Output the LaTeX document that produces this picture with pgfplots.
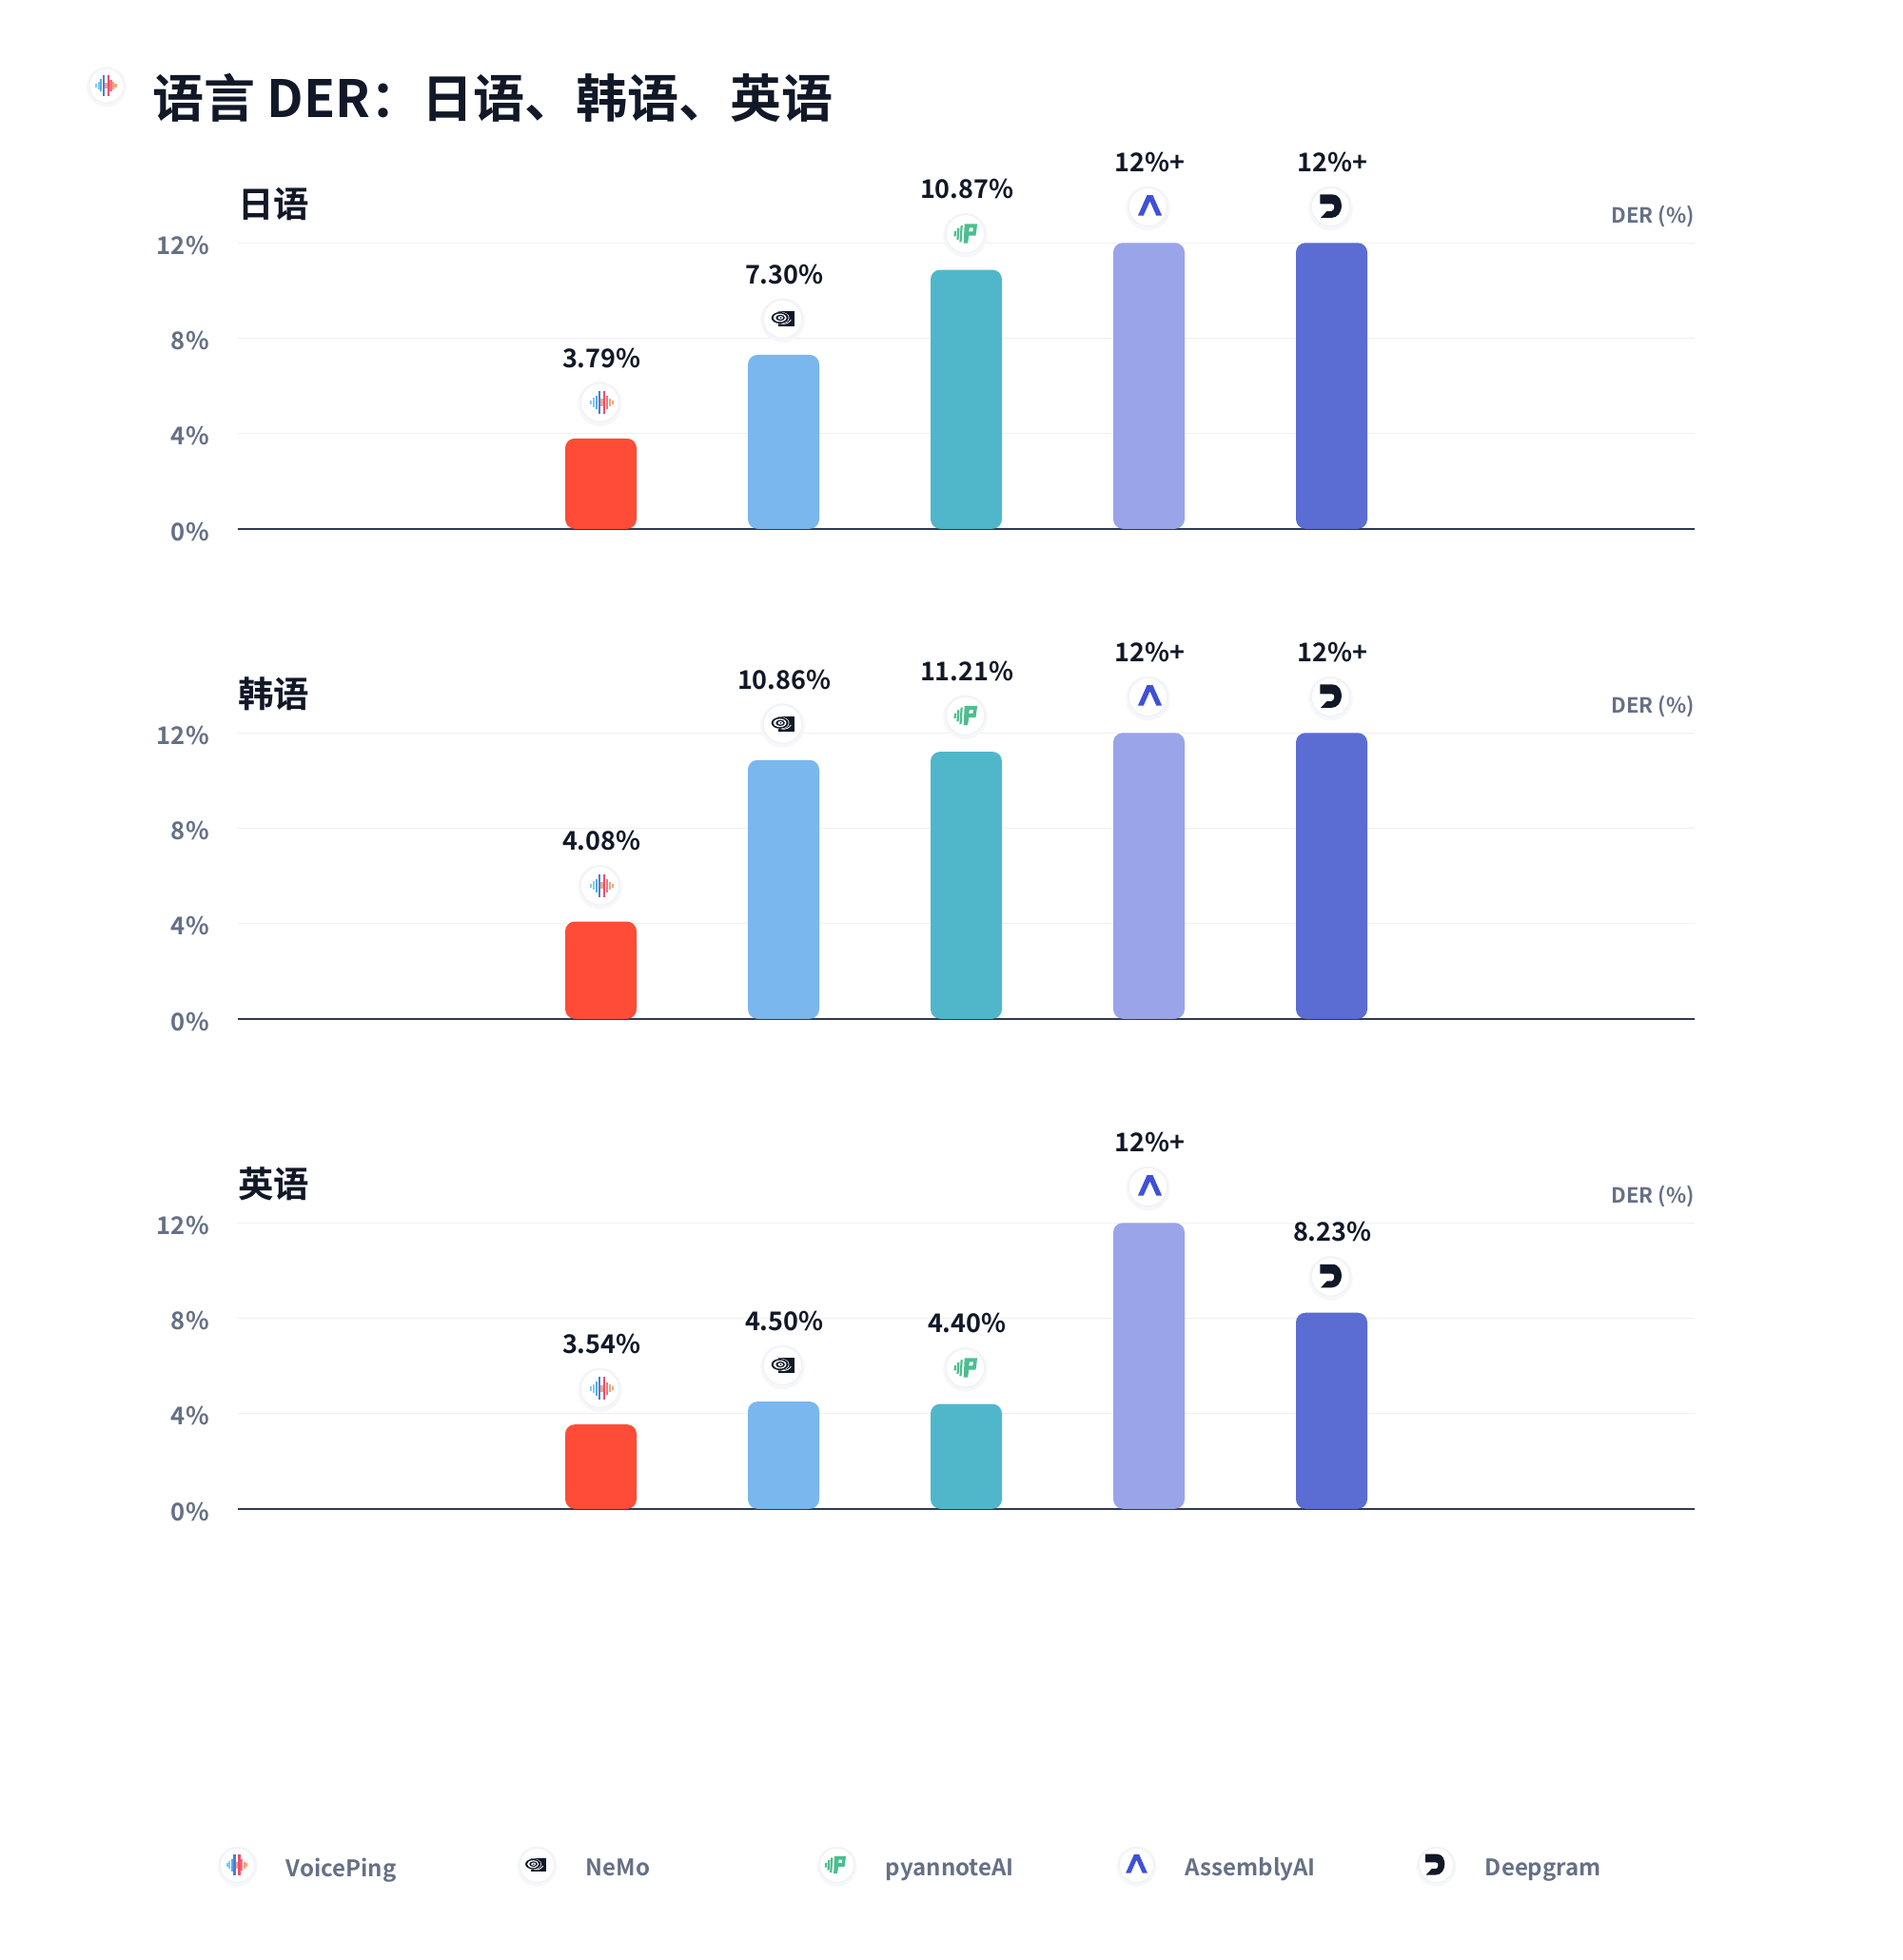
\documentclass[border=0pt]{standalone}
\usepackage{fontspec}
\usepackage{pgfplots}
\pgfplotsset{compat=1.18}
\setmainfont{Noto Sans CJK SC}[BoldFont={Noto Sans CJK SC Bold}]
\definecolor{ink}{HTML}{111827}
\definecolor{slate}{HTML}{667085}
\definecolor{axisc}{HTML}{2F3B4F}
\definecolor{cVP}{HTML}{FF4C36}
\definecolor{cNM}{HTML}{79B7EE}
\definecolor{cPY}{HTML}{50B7CB}
\definecolor{cAS}{HTML}{99A4E9}
\definecolor{cDG}{HTML}{5B6CD3}
\definecolor{ringA}{HTML}{F6F7FA}
\definecolor{ringB}{HTML}{EFF1F6}
\definecolor{vpA}{HTML}{7CCBF5}
\definecolor{vpB}{HTML}{5AA9EC}
\definecolor{vpC}{HTML}{4A7FD6}
\definecolor{vpD}{HTML}{F3A58A}
\definecolor{vpE}{HTML}{EE4F6C}
\definecolor{vpF}{HTML}{F4747C}
\definecolor{vpG}{HTML}{F6A474}
\definecolor{pg}{HTML}{4CBE8F}
\definecolor{asb}{HTML}{3E50D9}
\newcommand\iconbase{%
  \fill[draw=none,fill=ringA] (0,-0.7pt) circle (11.7pt);
  \path[draw=ringB,line width=0.5pt,fill=white] (0,0) circle (10.1pt);}
\pgfdeclareplotmark{vp}{\begin{scope}\iconbase
  \begin{scope}[xshift=-0.3pt,line width=1.05pt]
  \draw[vpA] (-5.6pt,-1.1pt)--(-5.6pt,1.1pt);
  \draw[vpA] (-4.2pt,-2.3pt)--(-4.2pt,2.3pt);
  \draw[vpB] (-2.8pt,-3.6pt)--(-2.8pt,3.6pt);
  \draw[vpC] (-1.4pt,-6pt)--(-1.4pt,6pt);
  \draw[vpD] (0pt,-1.8pt)--(0pt,1.8pt);
  \draw[vpE] (1.4pt,-6pt)--(1.4pt,6pt);
  \draw[vpF] (2.8pt,-3.4pt)--(2.8pt,3.4pt);
  \draw[vpG] (4.2pt,-2pt)--(4.2pt,2pt);
  \draw[vpG] (5.6pt,-1pt)--(5.6pt,1pt);
  \end{scope}\end{scope}}
\pgfdeclareplotmark{nm}{\begin{scope}\iconbase
  \fill[draw=none,ink] (-3.4pt,4.2pt) rectangle (5.1pt,-3.8pt);
  \fill[draw=none,white] (-2.4pt,0.6pt) ellipse (4.9pt and 3.2pt);
  \fill[draw=none,ink] (-2.4pt,0.6pt) ellipse (4.5pt and 3pt);
  \fill[draw=none,white] (-2.4pt,0.6pt) ellipse (3.4pt and 2.2pt);
  \fill[draw=none,ink] (-2.2pt,0.6pt) ellipse (2.4pt and 1.6pt);
  \fill[draw=none,white] (-2.1pt,0.6pt) ellipse (1.4pt and 0.9pt);
  \fill[draw=none,ink] (-2pt,0.6pt) ellipse (0.6pt and 0.4pt);
  \draw[white,line width=0.4pt] (-1.5pt,-2.6pt) .. controls (1pt,-2.8pt) and (2.8pt,-1.8pt) .. (3.4pt,-0.4pt);
  \end{scope}}
\pgfdeclareplotmark{py}{\begin{scope}\iconbase
  \fill[draw=none,pg,even odd rule] (-1.4pt,5.2pt)--(5.3pt,5.2pt)--(4.5pt,-0.9pt)--(0.9pt,-0.9pt)--(0.3pt,-4.9pt)--(-1.9pt,-4.9pt)--cycle
    (1.2pt,3.2pt)--(3.2pt,3.2pt)--(2.9pt,1.2pt)--(0.9pt,1.2pt)--cycle;
  \draw[pg,line width=1.1pt] (-6.2pt,1.3pt)--(-6.5pt,-1.3pt);
  \draw[pg,line width=1.1pt] (-4.6pt,3pt)--(-5pt,-3pt);
  \draw[pg,line width=1.1pt] (-2.9pt,4.3pt)--(-3.5pt,-4.3pt);
  \end{scope}}
\pgfdeclareplotmark{as}{\begin{scope}\iconbase
  \fill[draw=none,asb] (-1.5pt,6.2pt)--(1.5pt,6.2pt)--(6.3pt,-4.6pt)--(3.4pt,-4.6pt)--(0pt,3pt)--(-3.4pt,-4.6pt)--(-6.3pt,-4.6pt)--cycle;
  \end{scope}}
\pgfdeclareplotmark{dg}{\begin{scope}\iconbase
  \begin{scope}[xshift=0.2pt]
  \fill[draw=none,ink] (-6.6pt,6.5pt)--(0pt,6.5pt) .. controls (3.6pt,6.5pt) and (4.7pt,3pt) .. (4.7pt,0.7pt)
    .. controls (4.7pt,-3pt) and (2.5pt,-5.7pt) .. (-0.5pt,-5.7pt) -- (-6.2pt,-5.7pt) -- (-2.9pt,-2.2pt) -- (-0.4pt,-2.2pt)
    .. controls (0.4pt,-2.2pt) and (0.9pt,-0.9pt) .. (0.9pt,0.1pt) .. controls (0.9pt,1.1pt) and (0.4pt,1.6pt) .. (-0.5pt,1.6pt)
    -- (-6.6pt,1.6pt) -- cycle;
  \end{scope}\end{scope}}
\pgfplotsset{
  panel/.style={
    scale only axis, width=765.75pt, height=150.25pt, anchor=south west,
    xmin=0.0104, xmax=7.987, ymin=0, ymax=12, clip=false,
    axis x line=bottom, axis y line=left,
    x axis line style={-, draw=axisc, line width=0.85pt},
    y axis line style={draw=none},
    xtick=\empty, ytick={0,4,8,12}, yticklabels={0\%,4\%,8\%,12\%},
    tick style={draw=none}, major tick length=0pt,
    ymajorgrids, grid style={draw=black!6!white, line width=0.6pt},
    yticklabel style={font=\bfseries\fontsize{12.8}{16}\selectfont, color=slate, inner sep=0pt, anchor=east, xshift=-14.7pt, yshift=-1.4pt},
    title style={at={(axis description cs:0.0002,1.096)}, anchor=west, inner sep=0pt, font=\bfseries\fontsize{18.7}{22}\selectfont, color=ink},
    ylabel style={at={(axis description cs:1,1.0916)}, rotate=-90, anchor=east, inner sep=0pt, font=\bfseries\fontsize{11}{15}\selectfont, color=slate},
    ylabel={DER (\%)},
  },
  barp/.style={ybar, bar shift=0pt, bar width=37.5pt, draw=none, fill=#1, rounded corners=5pt, forget plot},
  markp/.style={only marks, mark=#1, mark options={yshift=18.9pt,xshift=0.5pt}, forget plot,
    point meta=explicit symbolic, nodes near coords,
    every node near coord/.append style={anchor=center, yshift=23.5pt, xshift=-0.1pt, inner sep=0pt, color=ink, font=\bfseries\fontsize{13.5}{17}\selectfont}},
  iconleg/.style={legend image code/.code={\path[draw=none] (-11.5pt,-10pt) rectangle (11.5pt,10pt); \begin{scope}[scale=0.9,yshift=2pt]\pgfuseplotmark{#1}\end{scope}}},
}
\newcommand\entry[5]{%
  \addplot[barp=#3] coordinates {(#1,#2)};
  \addplot[markp=#4] coordinates {(#1,#2) [#5]};
}
\begin{document}
\begin{tikzpicture}
\useasboundingbox (0,0) rectangle (1000pt,1030pt);
\begin{scope}[shift={(56pt,985pt)},scale=0.9]\pgfuseplotmark{vp}\end{scope}
\node[anchor=west,inner sep=0pt,text=ink,font=\bfseries\fontsize{27}{32}\selectfont] at (80.1pt,978.7pt) {语言 DER：日语、韩语、英语};
\begin{axis}[panel, at={(124.75pt,752.1pt)}, title={日语}]
\entry{2}{3.79}{cVP}{vp}{3.79\%}
\entry{3}{7.30}{cNM}{nm}{7.30\%}
\entry{4}{10.87}{cPY}{py}{10.87\%}
\entry{5}{12}{cAS}{as}{12\%+}
\entry{6}{12}{cDG}{dg}{12\%+}
\end{axis}
\begin{axis}[panel, at={(124.75pt,494.6pt)}, title={韩语}]
\entry{2}{4.08}{cVP}{vp}{4.08\%}
\entry{3}{10.86}{cNM}{nm}{10.86\%}
\entry{4}{11.21}{cPY}{py}{11.21\%}
\entry{5}{12}{cAS}{as}{12\%+}
\entry{6}{12}{cDG}{dg}{12\%+}
\end{axis}
\begin{axis}[panel, at={(124.75pt,237.1pt)}, title={英语},
  legend columns=5,
  legend cell align=left,
  legend style={at={(axis description cs:-0.015,-1.2525)}, anchor=west, draw=none, fill=none, inner sep=0pt, outer sep=0pt,
    font=\bfseries\fontsize{12}{16}\selectfont, text=slate,
    nodes={inner sep=0pt, text width=120.3pt, align=left},
    /tikz/column sep=0pt, /tikz/every odd column/.style={column sep=14.2pt}},
]
\entry{2}{3.54}{cVP}{vp}{3.54\%}
\entry{3}{4.50}{cNM}{nm}{4.50\%}
\entry{4}{4.40}{cPY}{py}{4.40\%}
\entry{5}{12}{cAS}{as}{12\%+}
\entry{6}{8.23}{cDG}{dg}{8.23\%}
\addlegendimage{iconleg=vp}\addlegendentry{VoicePing}
\addlegendimage{iconleg=nm}\addlegendentry{NeMo}
\addlegendimage{iconleg=py}\addlegendentry{pyannoteAI}
\addlegendimage{iconleg=as}\addlegendentry{AssemblyAI}
\addlegendimage{iconleg=dg}\addlegendentry{Deepgram}
\end{axis}
\end{tikzpicture}
\end{document}
